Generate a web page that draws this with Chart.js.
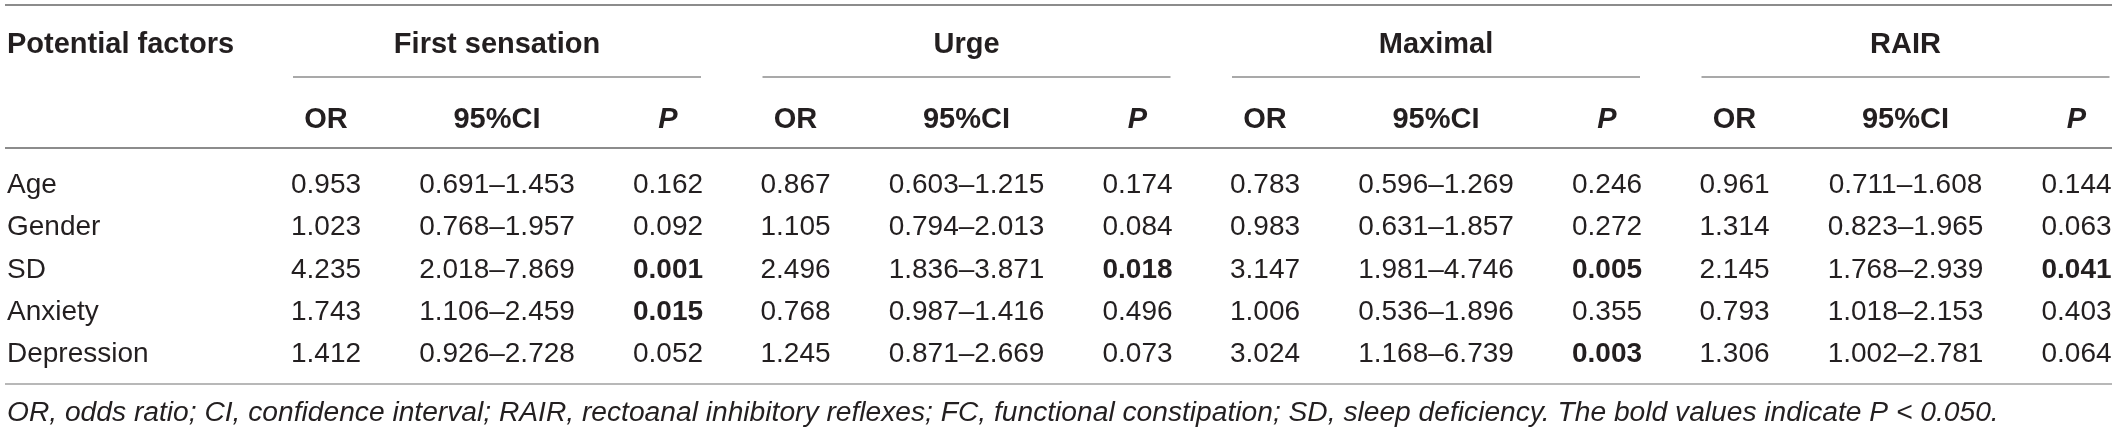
<!DOCTYPE html>
<html>
<head>
<meta charset="utf-8">
<script src="https://cdn.jsdelivr.net/npm/chart.js@4.4.1/dist/chart.umd.min.js"></script>
<style>
  html, body { margin: 0; padding: 0; background: #fff; }
  #wrap { width: 2118px; height: 432px; position: relative; }
</style>
</head>
<body>
<div id="wrap"><canvas id="oddsTable"></canvas></div>
<script>
// ---- data ----
var factors = ['Age', 'Gender', 'SD', 'Anxiety', 'Depression'];
var outcomes = ['First sensation', 'Urge', 'Maximal', 'RAIR'];
var subHeads = ['OR', '95%CI', 'P'];

var orFirst = [0.953, 1.023, 4.235, 1.743, 1.412];
var ciFirst = [[0.691, 1.453], [0.768, 1.957], [2.018, 7.869], [1.106, 2.459], [0.926, 2.728]];
var pFirst = [0.162, 0.092, 0.001, 0.015, 0.052];

var orUrge = [0.867, 1.105, 2.496, 0.768, 1.245];
var ciUrge = [[0.603, 1.215], [0.794, 2.013], [1.836, 3.871], [0.987, 1.416], [0.871, 2.669]];
var pUrge = [0.174, 0.084, 0.018, 0.496, 0.073];

var orMaximal = [0.783, 0.983, 3.147, 1.006, 3.024];
var ciMaximal = [[0.596, 1.269], [0.631, 1.857], [1.981, 4.746], [0.536, 1.896], [1.168, 6.739]];
var pMaximal = [0.246, 0.272, 0.005, 0.355, 0.003];

var orRair = [0.961, 1.314, 2.145, 0.793, 1.306];
var ciRair = [[0.711, 1.608], [0.823, 1.965], [1.768, 2.939], [1.018, 2.153], [1.002, 2.781]];
var pRair = [0.144, 0.063, 0.041, 0.403, 0.064];

var P_CUTOFF = 0.050;
var footnote = 'OR, odds ratio; CI, confidence interval; RAIR, rectoanal inhibitory reflexes; ' +
  'FC, functional constipation; SD, sleep deficiency. The bold values indicate P < 0.050.';

// ---- layout (pixels of the 2118x432 page) ----
var W = 2118, H = 432;
var FIRST_CENTER = 497, GROUP_STEP = 469.5, COL_STEP = 171;
var FIRST_ROW = 183, ROW_STEP = 42.25;
var LEFT = 7, RULE_L = 5, RULE_R = 2112, SUBRULE_HALF = 204;
var FONT = '"Liberation Sans", Arial, Helvetica, sans-serif';
var SIZE = 28, HEAD_SIZE = 29, FOOT_SIZE = 28.2;
var INK = '#231f20';

function toX(px) { return (px - FIRST_CENTER) / GROUP_STEP; }
function toRow(px) { return (px - FIRST_ROW) / ROW_STEP; }

var ROW_HEAD = toRow(43), ROW_SUB = toRow(118), ROW_FOOT = toRow(411);
var RULE_TOP = toRow(5), RULE_GROUP = toRow(77), RULE_HEAD = toRow(148), RULE_BOTTOM = toRow(384);
var COL_OFF = COL_STEP / GROUP_STEP;

function fmt(v) { return v.toFixed(3); }

var groups = [
  { or: orFirst, ci: ciFirst, p: pFirst },
  { or: orUrge, ci: ciUrge, p: pUrge },
  { or: orMaximal, ci: ciMaximal, p: pMaximal },
  { or: orRair, ci: ciRair, p: pRair }
];

function column(x, cells, bold, align) {
  return {
    data: cells.map(function(c, i) { return { x: x, y: i }; }),
    cells: cells,
    bold: bold,
    align: align || 'center',
    pointRadius: 0,
    pointHoverRadius: 0,
    showLine: false
  };
}

var datasets = [column(toX(LEFT), factors, factors.map(function() { return false; }), 'left')];
groups.forEach(function(g, gi) {
  var none = g.or.map(function() { return false; });
  datasets.push(column(gi - COL_OFF, g.or.map(fmt), none));
  datasets.push(column(gi, g.ci.map(function(c) { return fmt(c[0]) + '\u2013' + fmt(c[1]); }), none));
  datasets.push(column(gi + COL_OFF, g.p.map(fmt), g.p.map(function(p) { return p < P_CUTOFF; })));
});

function textAt(ctx, str, x, y, font, align) {
  ctx.font = font;
  ctx.textAlign = align;
  ctx.textBaseline = 'alphabetic';
  ctx.fillText(str, x, y + SIZE * 0.36);
}

var tablePlugin = {
  id: 'tableText',
  afterDatasetsDraw: function(chart) {
    var ctx = chart.ctx;
    var xs = chart.scales.x, ys = chart.scales.y;
    ctx.save();

    function rule(y, x0, x1, color, w) {
      ctx.beginPath();
      ctx.strokeStyle = color;
      ctx.lineWidth = w;
      ctx.moveTo(x0, ys.getPixelForValue(y));
      ctx.lineTo(x1, ys.getPixelForValue(y));
      ctx.stroke();
    }
    rule(RULE_TOP, RULE_L, RULE_R, '#8c8c8c', 2);
    rule(RULE_HEAD, RULE_L, RULE_R, '#8c8c8c', 2);
    rule(RULE_BOTTOM, RULE_L, RULE_R, '#b8b8b8', 2);

    ctx.fillStyle = INK;
    var bold = 'bold ' + HEAD_SIZE + 'px ' + FONT;
    textAt(ctx, 'Potential factors', xs.getPixelForValue(toX(LEFT)), ys.getPixelForValue(ROW_HEAD), bold, 'left');

    outcomes.forEach(function(name, gi) {
      var cx = xs.getPixelForValue(gi);
      textAt(ctx, name, cx, ys.getPixelForValue(ROW_HEAD), bold, 'center');
      rule(RULE_GROUP, cx - SUBRULE_HALF, cx + SUBRULE_HALF, '#8c8c8c', 1.5);
      ctx.fillStyle = INK;
      subHeads.forEach(function(s, k) {
        var f = (s === 'P' ? 'italic bold ' : 'bold ') + HEAD_SIZE + 'px ' + FONT;
        textAt(ctx, s, xs.getPixelForValue(gi + (k - 1) * COL_OFF), ys.getPixelForValue(ROW_SUB), f, 'center');
      });
    });

    chart.data.datasets.forEach(function(ds, di) {
      var meta = chart.getDatasetMeta(di);
      meta.data.forEach(function(pt, i) {
        var f = (ds.bold[i] ? 'bold ' : '') + SIZE + 'px ' + FONT;
        textAt(ctx, ds.cells[i], pt.x, pt.y, f, ds.align);
      });
    });

    textAt(ctx, footnote, xs.getPixelForValue(toX(LEFT)), ys.getPixelForValue(ROW_FOOT),
      'italic ' + FOOT_SIZE + 'px ' + FONT, 'left');
    ctx.restore();
  }
};

new Chart(document.getElementById('oddsTable').getContext('2d'), {
  type: 'scatter',
  data: { datasets: datasets },
  options: {
    responsive: true,
    maintainAspectRatio: false,
    animation: false,
    events: [],
    layout: { padding: 0 },
    plugins: { legend: { display: false }, tooltip: { enabled: false } },
    scales: {
      x: { type: 'linear', display: false, min: toX(0), max: toX(W) },
      y: { type: 'linear', display: false, reverse: true, min: toRow(0), max: toRow(H) }
    }
  },
  plugins: [tablePlugin]
});
</script>
</body>
</html>
